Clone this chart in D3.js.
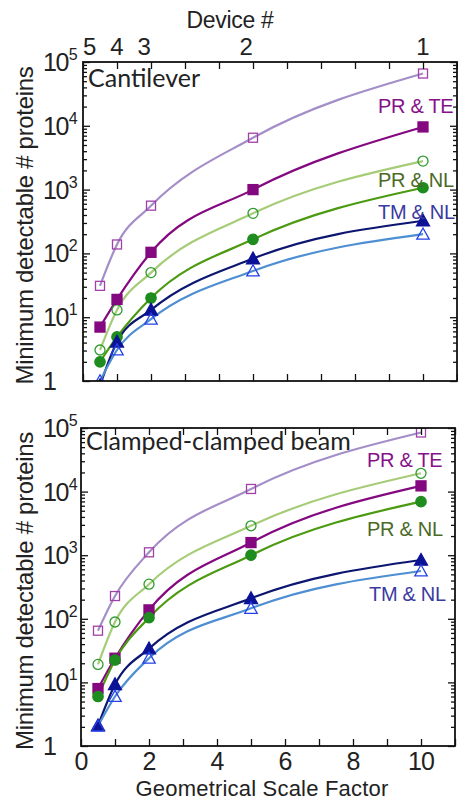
<!DOCTYPE html>
<html><head><meta charset="utf-8">
<script src="https://cdn.jsdelivr.net/npm/d3@7"></script>
<style>
html,body{margin:0;padding:0;background:#fff;}
svg{display:block;}
</style></head>
<body>
<svg id="chart" width="458" height="802"></svg>
<script>
// ---- data ----
const scaleFactors = [0.5, 1, 2, 5, 10];
const cantOpenSq    = [31, 138, 560, 6500, 66000];
const cantFilledSq  = [7, 19, 104, 1000, 9600];
const cantOpenCirc  = [3.06, 13, 50, 425, 2800];
const cantFilledCirc= [2.0, 4.9, 20, 166, 1070];
const cantFilledTri = [0.85, 4.1, 13, 83, 325];
const cantOpenTri   = [1.0, 3.06, 9.3, 53, 200];
const beamOpenSq    = [65, 228, 1110, 11000, 85000];
const beamOpenCirc  = [19.2, 89, 350, 2900, 19400];
const beamFilledSq  = [8, 24, 138, 1580, 12300];
const beamFilledCirc= [6.0, 22.5, 104, 1000, 6950];
const beamFilledTri = [2.1, 9.3, 34, 210, 840];
const beamOpenTri   = [2.06, 6, 24, 146, 565];
const deviceLabels = ["5","4","3","2","1"];
const devicePositions = [0.2, 1, 1.8, 4.8, 10];
const xTickLabels = [0, 2, 4, 6, 8, 10];
const yTickExponents = [0, 1, 2, 3, 4, 5];
const legendLabels = ["PR & TE", "PR & NL", "TM & NL"];

// ---- styles ----
const seriesStyle = {
  openSq:    {line:"#a48ec8", mark:"#a040a8", shape:"square",   fill:false},
  filledSq:  {line:"#84087f", mark:"#84087f", shape:"square",   fill:true},
  openCirc:  {line:"#a6cc78", mark:"#2e9a2e", shape:"circle",   fill:false},
  filledCirc:{line:"#4c9a12", mark:"#1e8c1e", shape:"circle",   fill:true},
  filledTri: {line:"#0c1670", mark:"#0c1296", shape:"triangle", fill:true},
  openTri:   {line:"#4e8ed2", mark:"#2440e8", shape:"triangle", fill:false}
};
const order = ["openSq","openCirc","filledSq","filledCirc","filledTri","openTri"];

const panels = [
  {title:"Cantilever", left:83, right:457, top:62, bottom:381,
   series:{openSq:cantOpenSq, filledSq:cantFilledSq, openCirc:cantOpenCirc, filledCirc:cantFilledCirc, filledTri:cantFilledTri, openTri:cantOpenTri},
   legendY:[113, 187, 219], legendX:[378, 378, 378], showX:false, showDevice:true},
  {title:"Clamped-clamped beam", left:81, right:455, top:428, bottom:746,
   series:{openSq:beamOpenSq, filledSq:beamFilledSq, openCirc:beamOpenCirc, filledCirc:beamFilledCirc, filledTri:beamFilledTri, openTri:beamOpenTri},
   legendY:[467, 536, 601], legendX:[367, 367, 369], showX:true, showDevice:false}
];
const legendColors = ["#86108a", "#4a6a26", "#3a3aa0"];
const textColor = "#222";
const fontMain = "'Liberation Sans', Arial, sans-serif";

const svg = d3.select("#chart");

panels.forEach((p, pi) => {
  const x = d3.scaleLinear().domain([0, 11]).range([p.left, p.right]);
  const y = d3.scaleLog().domain([1, 1e5]).range([p.bottom, p.top]);
  const g = svg.append("g");
  const clipId = "clip" + pi;
  svg.append("clipPath").attr("id", clipId).append("rect")
    .attr("x", p.left).attr("y", p.top).attr("width", p.right - p.left).attr("height", p.bottom - p.top);

  // lines
  const plot = g.append("g").attr("clip-path", `url(#${clipId})`);
  const line = d3.line().x(d => x(d[0])).y(d => y(d[1])).curve(d3.curveMonotoneX);
  order.forEach(k => {
    const vals = p.series[k];
    const pts = scaleFactors.map((s, i) => [s, vals[i]]);
    plot.append("path").attr("d", line(pts)).attr("fill", "none")
      .attr("stroke", seriesStyle[k].line).attr("stroke-width", 2.2);
  });
  // markers
  order.forEach(k => {
    const st = seriesStyle[k];
    const vals = p.series[k];
    scaleFactors.forEach((s, i) => {
      const cx = x(s), cy = y(vals[i]);
      let el;
      if (st.shape === "square") {
        const h = st.fill ? 5 : 4.5;
        el = plot.append("rect").attr("x", cx - h).attr("y", cy - h).attr("width", 2*h).attr("height", 2*h);
      } else if (st.shape === "circle") {
        el = plot.append("circle").attr("cx", cx).attr("cy", cy).attr("r", st.fill ? 5.2 : 5);
      } else {
        const s2 = st.fill ? 6.5 : 6.2;
        el = plot.append("path").attr("d", `M${cx},${cy - s2}L${cx + s2},${cy + s2*0.8}L${cx - s2},${cy + s2*0.8}Z`);
      }
      el.attr("fill", st.fill ? st.mark : "none").attr("stroke", st.mark).attr("stroke-width", 1.3);
    });
  });

  // axes ticks (inward)
  const majors = yTickExponents.map(e => Math.pow(10, e));
  const minors = [];
  for (let e = 0; e < 5; e++) for (let m = 2; m <= 9; m++) minors.push(m * Math.pow(10, e));
  const xt = d3.range(0, 12, 1);

  const axL = g.append("g").attr("transform", `translate(${p.left},0)`)
    .call(d3.axisRight(y).tickValues(majors).tickSize(7).tickFormat(""));
  const axLm = g.append("g").attr("transform", `translate(${p.left},0)`)
    .call(d3.axisRight(y).tickValues(minors).tickSize(4).tickFormat(""));
  const axR = g.append("g").attr("transform", `translate(${p.right},0)`)
    .call(d3.axisLeft(y).tickValues(majors).tickSize(7).tickFormat(""));
  const axRm = g.append("g").attr("transform", `translate(${p.right},0)`)
    .call(d3.axisLeft(y).tickValues(minors).tickSize(4).tickFormat(""));
  const axB = g.append("g").attr("transform", `translate(0,${p.bottom})`)
    .call(d3.axisTop(x).tickValues(xt).tickSize(7).tickFormat(""));
  const axT = g.append("g").attr("transform", `translate(0,${p.top})`)
    .call(d3.axisBottom(x).tickValues(xt).tickSize(7).tickFormat(""));
  [axL, axLm, axR, axRm, axB, axT].forEach(a => {
    a.select(".domain").remove();
    a.selectAll("line").attr("stroke", "#111").attr("stroke-width", 1.3);
  });
  // frame
  g.append("rect").attr("x", p.left).attr("y", p.top).attr("width", p.right - p.left).attr("height", p.bottom - p.top)
    .attr("fill", "none").attr("stroke", "#111").attr("stroke-width", 1.8);

  // y tick labels
  yTickExponents.forEach(e => {
    const ty = y(Math.pow(10, e)) + 9;
    const t = g.append("text").attr("x", 43).attr("y", ty)
      .attr("font-family", fontMain).attr("font-size", 25).attr("fill", textColor)
      .attr("letter-spacing", -1.5);
    if (e === 0) { t.text("1"); }
    else {
      t.append("tspan").text("10");
      t.append("tspan").attr("font-size", 16).attr("dy", -11).attr("dx", 1).text(String(e));
    }
  });

  // y label
  g.append("text")
    .attr("transform", `translate(33,${(p.top + p.bottom) / 2 + 4}) rotate(-90)`)
    .attr("text-anchor", "middle").attr("font-family", fontMain).attr("font-size", 24)
    .attr("letter-spacing", -0.3).attr("fill", textColor)
    .text("Minimum detectable # proteins");

  // panel title
  g.append("text").attr("x", p.left + 5).attr("y", p.top + (pi === 0 ? 25 : 22))
    .attr("font-family", "Lato, 'Open Sans', sans-serif").attr("font-size", 25).attr("fill", textColor)
    .text(p.title);

  // legend labels
  legendLabels.forEach((lab, i) => {
    g.append("text").attr("x", p.legendX[i]).attr("y", p.legendY[i])
      .attr("font-family", fontMain).attr("font-size", 20).attr("fill", legendColors[i])
      .attr("letter-spacing", -0.3)
      .text(lab);
  });

  if (p.showX) {
    xTickLabels.forEach(v => {
      g.append("text").attr("x", x(v)).attr("y", p.bottom + 24).attr("text-anchor", "middle")
        .attr("font-family", fontMain).attr("font-size", 25).attr("letter-spacing", -1).attr("fill", textColor).text(v);
    });
    g.append("text").attr("x", (p.left + p.right) / 2 - 6).attr("y", 796).attr("text-anchor", "middle")
      .attr("font-family", fontMain).attr("font-size", 22).attr("letter-spacing", 0.2).attr("fill", textColor)
      .text("Geometrical Scale Factor");
  }
  if (p.showDevice) {
    deviceLabels.forEach((lab, i) => {
      g.append("text").attr("x", x(devicePositions[i])).attr("y", 55).attr("text-anchor", "middle")
        .attr("font-family", fontMain).attr("font-size", 24).attr("fill", textColor).text(lab);
    });
    g.append("text").attr("x", 230).attr("y", 28).attr("text-anchor", "middle")
      .attr("font-family", fontMain).attr("font-size", 23).attr("letter-spacing", -0.3).attr("fill", textColor)
      .text("Device #");
  }
});
</script>
</body></html>
